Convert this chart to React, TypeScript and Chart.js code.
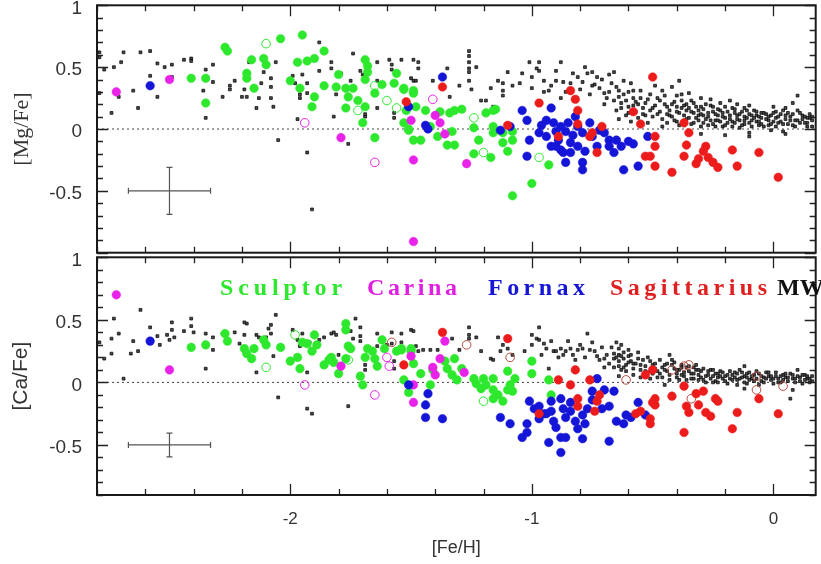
import React, { useEffect, useRef } from "react";
import { Chart, registerables } from "chart.js";
Chart.register(...registerables);

type P = [number, number];

// ---------- axes ----------
const X_MIN = -2.8;
const X_MAX = 0.175;
const xTickLabels = [-2, -1, 0];
const mgRange = [-1, 1];
const caRange = [-0.9, 1];
const yTickLabelsMg = [1, 0.5, 0, -0.5];
const yTickLabelsCa = [1, 0.5, 0, -0.5];

// ---------- legend ----------
const legendNames = ["Sculptor", "Carina", "Fornax", "Sagittarius", "MW"];
const legendColors = ["#2ee82e", "#e020e0", "#1515d5", "#e02020", "#111111"];

// ---------- typical error bars ----------
const errCenter: P = [-2.5, -0.5];
const errHalfFe = 0.17;
const errHalfMg = 0.19;
const errHalfCa = 0.095;

// ---------- [Mg/Fe] data ----------
const sculptorMg: P[] = [
  [-2.41, 0.41], [-2.35, 0.41], [-2.35, 0.21], [-2.27, 0.66], [-2.26, 0.63], [-2.18, 0.45], [-2.18, 0.41],
  [-2.15, 0.33], [-2.16, 0.56], [-2.11, 0.57], [-2.1, 0.52], [-2.04, 0.73], [-1.95, 0.76], [-1.97, 0.54],
  [-1.93, 0.55], [-1.9, 0.57], [-1.86, 0.63], [-2.0, 0.39], [-1.96, 0.33], [-1.9, 0.26], [-1.91, 0.18],
  [-1.86, 0.35], [-1.8, 0.44], [-1.81, 0.34], [-1.77, 0.33], [-1.76, 0.26], [-1.77, 0.17], [-1.74, 0.33],
  [-1.72, 0.23], [-1.7, 0.05], [-1.69, 0.18], [-1.69, 0.56], [-1.68, 0.51], [-1.68, 0.46], [-1.69, 0.4],
  [-1.65, 0.29], [-1.65, -0.07], [-1.62, 0.36], [-1.56, 0.45], [-1.57, 0.37], [-1.53, 0.32], [-1.53, 0.05],
  [-1.51, -0.01], [-1.49, -0.09], [-1.49, 0.29], [-1.53, 0.33], [-1.49, 0.31], [-1.48, 0.18], [-1.46, -0.09],
  [-1.51, 0.0], [-1.42, 0.02], [-1.39, -0.06], [-1.35, -0.13], [-1.32, -0.13], [-1.33, -0.02], [-1.34, 0.13],
  [-1.32, 0.15], [-1.29, 0.16], [-1.38, 0.14], [-1.24, 0.01], [-1.22, -0.09], [-1.24, -0.2], [-1.17, -0.23],
  [-1.19, 0.13], [-1.16, 0.15], [-1.15, 0.16], [-1.16, 0.02], [-1.16, -0.03], [-1.12, -0.03], [-1.12, -0.11],
  [-1.1, -0.18], [-1.08, -0.02], [-1.08, -0.09], [-1.08, -0.54], [-1.0, -0.44], [-0.93, -0.29], [-1.52, 0.15],
  [-1.44, 0.15],
];
const sculptorMgOpen: P[] = [
  [-2.1, 0.69], [-1.72, 0.15], [-1.65, 0.35], [-1.56, 0.17], [-1.6, 0.23], [-1.24, 0.09], [-1.2, -0.19], [-0.97, -0.23],
];
const carinaMg: P[] = [
  [-2.72, 0.3], [-2.5, 0.4], [-1.79, -0.07], [-1.49, -0.91], [-1.49, -0.25], [-1.5, 0.07], [-1.4, 0.11],
  [-1.38, 0.05], [-1.36, -0.04], [-1.27, -0.28],
];
const carinaMgOpen: P[] = [[-1.94, 0.05], [-1.65, -0.27], [-1.41, 0.24]];
const fornaxMg: P[] = [
  [-2.58, 0.35], [-1.51, 0.18], [-1.37, 0.42], [-1.44, 0.03], [-1.43, 0.0], [-1.13, -0.01], [-1.09, 0.02],
  [-1.04, 0.15], [-1.02, 0.07], [-1.01, -0.09], [-1.02, -0.22], [-0.92, 0.17], [-0.96, 0.03], [-0.97, -0.03],
  [-0.94, -0.06], [-0.92, -0.14], [-0.91, 0.05], [-0.88, 0.02], [-0.86, -0.02], [-0.89, -0.09], [-0.88, -0.17],
  [-0.87, -0.19], [-0.86, -0.27], [-0.84, -0.11], [-0.83, -0.05], [-0.81, 0.02], [-0.82, 0.1], [-0.81, -0.14],
  [-0.79, -0.27], [-0.79, -0.33], [-0.78, -0.18], [-0.76, 0.05], [-0.75, -0.06], [-0.73, -0.14], [-0.72, -0.01],
  [-0.7, -0.03], [-0.68, -0.09], [-0.66, -0.19], [-0.68, -0.14], [-0.65, -0.09], [-0.63, -0.14], [-0.6, -0.1],
  [-0.58, -0.12], [-0.62, -0.33], [-0.56, -0.3], [-0.52, -0.06], [-0.94, 0.07], [-0.9, -0.02], [-0.85, 0.05],
  [-0.79, -0.03], [-0.84, -0.19], [-0.9, -0.14],
];
const sagittariusMg: P[] = [
  [-1.52, 0.22], [-1.37, 0.34], [-1.1, 0.03], [-0.97, 0.21], [-0.89, -0.06], [-0.84, 0.31], [-0.82, 0.24],
  [-0.81, 0.15], [-0.81, 0.04], [-0.76, -0.06], [-0.75, -0.03], [-0.71, 0.02], [-0.73, -0.19], [-0.58, 0.14],
  [-0.55, 0.04], [-0.5, 0.42], [-0.53, -0.22], [-0.51, -0.22], [-0.49, -0.06], [-0.49, -0.14], [-0.49, -0.3],
  [-0.42, -0.35], [-0.37, 0.05], [-0.35, -0.03], [-0.36, -0.13], [-0.37, -0.22], [-0.32, -0.28], [-0.31, -0.24],
  [-0.29, -0.18], [-0.28, -0.14], [-0.27, -0.23], [-0.25, -0.27], [-0.23, -0.31], [-0.17, -0.17], [-0.15, -0.3],
  [-0.06, -0.19], [0.02, -0.39],
];
const mwMg: P[] = [
  [-2.79, 0.62], [-2.79, 0.58], [-2.77, 0.48], [-2.73, 0.5], [-2.74, 0.13], [-2.79, 0.29], [-2.71, 0.26],
  [-2.7, 0.54], [-2.69, 0.62], [-2.65, 0.31], [-2.63, 0.17], [-2.62, 0.62], [-2.58, 0.63], [-2.58, 0.43],
  [-2.55, 0.53], [-2.55, 0.26], [-2.52, 0.5], [-2.49, 0.52], [-2.49, 0.42], [-2.44, 0.56], [-2.41, 0.57],
  [-2.41, 0.55], [-2.35, 0.48], [-2.36, 0.31], [-2.35, 0.09], [-2.32, 0.52], [-2.32, 0.38], [-2.28, 0.26],
  [-2.25, 0.35], [-2.25, 0.32], [-2.23, 0.39], [-2.2, 0.26], [-2.18, 0.26], [-2.19, 0.32], [-2.17, 0.54],
  [-2.14, 0.17], [-2.13, 0.25], [-2.12, 0.37], [-2.11, 0.46], [-2.08, 0.41], [-2.08, 0.34], [-2.08, 0.25],
  [-2.07, 0.18], [-2.06, 0.54], [-2.05, -0.09], [-1.99, 0.43], [-1.98, 0.37], [-1.96, 0.28], [-1.96, 0.25],
  [-1.97, 0.08], [-1.95, 0.44], [-1.93, -0.19], [-1.93, 0.37], [-1.93, 0.29], [-1.91, -0.65], [-1.88, 0.7],
  [-1.88, 0.47], [-1.83, 0.54], [-1.83, 0.49], [-1.82, 0.1], [-1.81, 0.28], [-1.79, 0.45], [-1.76, -0.12],
  [-1.75, 0.39], [-1.74, 0.61], [-1.71, 0.47], [-1.7, 0.44], [-1.69, 0.1], [-1.69, 0.12], [-1.64, 0.54],
  [-1.64, 0.17], [-1.64, 0.39], [-1.59, 0.56], [-1.58, 0.52], [-1.57, 0.13], [-1.57, 0.09], [-1.58, 0.48],
  [-1.54, 0.56], [-1.5, 0.41], [-1.49, 0.56], [-1.47, 0.54], [-1.49, 0.39], [-1.48, 0.39], [-1.47, 0.49],
  [-1.41, 0.39], [-1.35, 0.49], [-1.34, 0.26], [-1.3, 0.35], [-1.26, 0.63], [-1.26, 0.59], [-1.26, 0.54],
  [-1.26, 0.49], [-1.26, 0.46], [-1.26, 0.39], [-1.23, 0.5], [-1.25, 0.32], [-1.21, 0.23], [-1.19, 0.23],
  [-1.17, 0.33], [-1.16, 0.18], [-1.14, 0.39], [-1.12, 0.37], [-1.12, 0.31], [-1.12, 0.27], [-1.1, 0.46],
  [-1.08, 0.35], [-1.05, 0.37], [-1.04, 0.45], [-1.01, 0.54], [-1.0, 0.33], [-0.97, 0.54], [-0.98, 0.49],
  [-0.97, 0.47], [-0.95, 0.39], [-0.93, 0.31], [-0.92, 0.35], [-0.9, 0.39], [-0.88, 0.54], [-0.88, 0.25],
  [-0.87, 0.38], [-0.84, 0.37], [-0.81, 0.42], [-0.79, 0.38], [-0.77, 0.45], [-0.75, 0.46], [-0.73, 0.42],
  [-0.75, 0.35], [-0.72, 0.33], [-0.7, 0.29], [-0.68, 0.3], [-0.66, 0.23], [-0.66, 0.46], [-0.65, 0.34],
  [-0.65, 0.15], [-0.64, 0.31], [-0.64, 0.26], [-0.63, 0.21], [-0.62, 0.39], [-0.61, 0.23], [-0.6, 0.13],
  [-0.59, 0.37], [-0.58, 0.31], [-0.57, 0.22], [-0.55, 0.25], [-0.53, 0.11], [-0.51, 0.15], [-0.49, 0.35],
  [-0.47, 0.23], [-0.46, 0.31], [-0.44, 0.18], [-0.43, 0.11], [-0.42, 0.34], [-0.4, 0.18], [-0.39, 0.39],
  [-0.38, 0.23], [-0.37, 0.11], [-0.36, 0.15], [-0.34, 0.23], [-0.33, 0.13], [-0.31, 0.07], [-0.3, 0.18],
  [-0.29, 0.11], [-0.27, 0.03], [-0.25, 0.14], [-0.24, 0.07], [-0.23, 0.11], [-0.21, 0.02], [-0.2, 0.09],
  [-0.18, 0.23], [-0.17, 0.06], [-0.16, 0.13], [-0.14, 0.01], [-0.12, 0.1], [-0.12, 0.17], [-0.1, -0.03],
  [-0.09, 0.07], [-0.07, 0.11], [-0.06, 0.03], [-0.05, 0.13], [-0.02, 0.07], [-0.01, -0.01], [0.01, 0.14],
  [0.02, 0.05], [0.04, -0.02], [0.06, 0.13], [0.08, 0.21], [0.09, 0.07], [0.1, 0.27], [0.12, 0.11],
  [0.14, 0.05], [0.15, 0.09], [0.16, 0.02],
  [-0.48, 0.12], [-0.46, 0.08], [-0.45, 0.2], [-0.44, 0.05], [-0.43, 0.15], [-0.42, 0.1], [-0.41, 0.22],
  [-0.4, 0.06], [-0.39, 0.13], [-0.38, 0.17], [-0.37, 0.03], [-0.36, 0.2], [-0.35, 0.09], [-0.34, 0.14],
  [-0.33, 0.05], [-0.32, 0.18], [-0.31, 0.11], [-0.3, 0.02], [-0.29, 0.16], [-0.28, 0.08], [-0.27, 0.13],
  [-0.26, 0.19], [-0.25, 0.04], [-0.24, 0.12], [-0.23, 0.07], [-0.22, 0.15], [-0.21, 0.1], [-0.2, 0.03],
  [-0.19, 0.14], [-0.18, 0.08], [-0.17, 0.17], [-0.16, 0.05], [-0.15, 0.11], [-0.14, 0.07], [-0.13, 0.14],
  [-0.12, 0.04], [-0.11, 0.09], [-0.1, 0.12], [-0.09, 0.02], [-0.08, 0.15], [-0.07, 0.06], [-0.06, 0.1],
  [-0.05, 0.04], [-0.04, 0.13], [-0.03, 0.08], [-0.02, 0.03], [-0.01, 0.11], [0.0, 0.06], [0.01, 0.09],
  [0.03, 0.12], [0.04, 0.04], [0.05, 0.08], [0.07, 0.1], [0.08, 0.03], [0.1, 0.07], [0.11, 0.13], [0.13, 0.05],
  [0.14, 0.09], [0.16, 0.07], [-0.62, 0.28], [-0.6, 0.18], [-0.58, 0.25], [-0.57, 0.14], [-0.56, 0.2],
  [-0.54, 0.17], [-0.52, 0.24], [-0.5, 0.1], [-0.49, 0.19], [-0.4, 0.27], [-0.35, 0.29], [-0.3, 0.25],
  [-0.26, 0.24], [-0.22, 0.21], [-0.15, 0.2], [-0.1, 0.19], [0.0, 0.18], [0.05, 0.17], [-0.2, -0.05],
  [-0.1, -0.06], [0.05, -0.04], [-0.3, -0.04],
  [-0.64, 0.08], [-0.63, 0.17], [-0.61, 0.11], [-0.6, 0.3], [-0.59, 0.06], [-0.58, 0.19], [-0.56, 0.09],
  [-0.55, 0.31], [-0.54, 0.12], [-0.53, 0.21], [-0.52, 0.05], [-0.51, 0.28], [-0.5, 0.17], [-0.48, 0.25],
  [-0.47, 0.14], [-0.46, 0.02], [-0.45, 0.27], [-0.44, 0.12], [-0.42, 0.2], [-0.41, 0.07], [-0.4, 0.14],
  [-0.39, 0.03], [-0.38, 0.28], [-0.37, 0.19], [-0.36, 0.08], [-0.35, 0.17], [-0.34, 0.04], [-0.33, 0.21],
  [-0.32, 0.09], [-0.31, 0.15], [-0.3, 0.12], [-0.29, 0.05], [-0.28, 0.2], [-0.27, 0.1], [-0.26, 0.07],
  [-0.25, 0.18], [-0.24, 0.02], [-0.23, 0.16], [-0.22, 0.06], [-0.21, 0.13], [-0.2, 0.18], [-0.19, 0.05],
  [-0.18, 0.11], [-0.17, 0.02], [-0.16, 0.16], [-0.15, 0.08], [-0.14, 0.12], [-0.13, 0.03], [-0.12, 0.07],
  [-0.11, 0.15], [-0.1, 0.05], [-0.09, 0.11], [-0.08, 0.09], [-0.07, 0.14], [-0.06, 0.06], [-0.05, 0.09],
  [-0.04, 0.02], [-0.03, 0.12], [-0.02, 0.1], [-0.01, 0.04], [0.0, 0.13], [0.01, 0.02], [0.02, 0.1],
  [0.03, 0.06], [0.04, 0.15], [0.05, 0.11], [0.06, 0.04], [0.07, 0.07], [0.08, 0.12], [0.09, 0.02],
  [0.1, 0.15], [0.11, 0.05], [0.12, 0.08], [0.13, 0.1], [0.14, 0.02], [0.15, 0.12], [0.16, 0.1],
  [-1.0, 0.42], [-0.95, 0.3], [-0.9, 0.47], [-0.86, 0.3], [-0.83, 0.45], [-0.8, 0.32], [-0.78, 0.5],
  [-0.76, 0.28], [-0.74, 0.36], [-0.71, 0.4], [-0.69, 0.25], [-0.67, 0.37], [-0.7, 0.2], [-0.68, 0.44],
];

// ---------- [Ca/Fe] data ----------
const sculptorCa: P[] = [
  [-2.41, 0.28], [-2.35, 0.3], [-2.27, 0.39], [-2.26, 0.33], [-2.19, 0.27], [-2.18, 0.23], [-2.16, 0.19],
  [-2.15, 0.27], [-2.11, 0.34], [-2.1, 0.3], [-2.04, 0.28], [-2.0, 0.17], [-1.97, 0.2], [-1.96, 0.11],
  [-1.95, 0.32], [-1.93, 0.31], [-1.91, 0.25], [-1.9, 0.38], [-1.89, 0.3], [-1.86, 0.14], [-1.84, 0.18],
  [-1.83, 0.2], [-1.82, 0.16], [-1.8, 0.07], [-1.77, 0.19], [-1.77, 0.47], [-1.77, 0.42], [-1.76, 0.29],
  [-1.75, 0.27], [-1.71, 0.05], [-1.7, -0.02], [-1.69, 0.2], [-1.68, 0.27], [-1.66, 0.25], [-1.65, 0.19],
  [-1.64, 0.13], [-1.62, 0.34], [-1.61, 0.27], [-1.56, 0.25], [-1.54, 0.27], [-1.53, 0.02], [-1.51, -0.08],
  [-1.5, 0.25], [-1.54, 0.26], [-1.5, 0.27], [-1.49, 0.15], [-1.46, 0.07], [-1.42, -0.02], [-1.41, 0.1],
  [-1.36, 0.17], [-1.35, 0.11], [-1.33, 0.06], [-1.31, 0.02], [-1.32, 0.19], [-1.29, 0.11], [-1.24, 0.03],
  [-1.23, -0.01], [-1.21, -0.05], [-1.2, 0.03], [-1.19, -0.02], [-1.16, -0.06], [-1.16, 0.03], [-1.14, -0.1],
  [-1.12, -0.15], [-1.1, -0.06], [-1.09, -0.02], [-1.07, 0.03], [-1.08, -0.07], [-1.1, 0.09], [-1.0, 0.17],
  [-1.0, 0.07], [-0.93, 0.02], [-0.92, -0.1], [-1.16, -0.13],
];
const sculptorCaOpen: P[] = [[-1.98, 0.38], [-2.1, 0.12], [-1.76, 0.18], [-1.2, -0.15]];
const carinaCa: P[] = [
  [-2.72, 0.7], [-2.5, 0.1], [-1.79, 0.13], [-1.5, 0.21], [-1.49, -0.16], [-1.36, 0.33], [-1.38, 0.19],
  [-1.4, 0.06], [-1.41, 0.12], [-1.49, -0.02], [-1.28, 0.08],
];
const carinaCaOpen: P[] = [[-1.94, -0.02], [-1.65, -0.1], [-1.6, 0.2], [-1.59, 0.13]];
const fornaxCa: P[] = [
  [-2.58, 0.33], [-1.51, -0.02], [-1.43, -0.09], [-1.44, -0.18], [-1.44, -0.28], [-1.37, -0.29], [-1.13, -0.28],
  [-1.09, -0.33], [-1.04, -0.44], [-1.02, -0.4], [-1.02, -0.33], [-1.01, -0.15], [-0.99, -0.21], [-0.97, -0.29],
  [-0.97, -0.19], [-0.95, -0.25], [-0.93, -0.48], [-0.92, -0.15], [-0.92, -0.23], [-0.91, -0.31], [-0.9, -0.36],
  [-0.88, -0.56], [-0.88, -0.44], [-0.88, -0.13], [-0.87, -0.21], [-0.86, -0.28], [-0.86, -0.44], [-0.84, -0.16],
  [-0.84, -0.23], [-0.82, -0.31], [-0.81, -0.37], [-0.79, -0.45], [-0.79, -0.26], [-0.78, -0.33], [-0.77, -0.21],
  [-0.75, -0.07], [-0.75, -0.14], [-0.73, 0.03], [-0.71, -0.21], [-0.7, -0.06], [-0.68, -0.47], [-0.68, -0.19],
  [-0.66, -0.07], [-0.65, -0.31], [-0.62, -0.33], [-0.61, -0.26], [-0.59, -0.28], [-0.56, -0.16], [-0.53, -0.26],
  [-0.94, -0.25],
];
const sagittariusCa: P[] = [
  [-1.53, 0.14], [-1.37, 0.4], [-1.1, 0.35], [-0.89, 0.02], [-0.84, -0.02], [-0.82, 0.1], [-0.81, -0.13],
  [-0.81, -0.19], [-0.76, 0.02], [-0.73, -0.15], [-0.72, -0.1], [-0.74, -0.23], [-0.97, -0.25], [-0.57, -0.25],
  [-0.55, -0.23], [-0.53, 0.06], [-0.5, 0.1], [-0.5, -0.16], [-0.49, -0.13], [-0.51, -0.29], [-0.51, -0.33],
  [-0.49, -0.18], [-0.42, -0.11], [-0.37, -0.4], [-0.37, -0.03], [-0.36, -0.19], [-0.35, -0.24], [-0.32, -0.09],
  [-0.29, -0.07], [-0.31, -0.18], [-0.28, -0.24], [-0.26, -0.27], [-0.24, -0.13], [-0.23, -0.15], [-0.17, -0.37],
  [-0.15, -0.24], [-0.06, -0.13], [0.02, -0.25],
];
const sagittariusCaOpen: P[] = [
  [-1.58, 0.32], [-1.27, 0.3], [-1.09, 0.2], [-0.61, 0.02], [-0.42, 0.1], [-0.37, 0.13], [-0.35, 0.14],
  [-0.34, -0.13], [-0.07, 0.05], [-0.07, -0.06], [0.04, -0.03],
];
const mwCa: P[] = [
  [-2.79, 0.32], [-2.77, 0.19], [-2.74, 0.23], [-2.73, 0.51], [-2.74, 0.35], [-2.71, 0.39], [-2.69, 0.03],
  [-2.66, 0.23], [-2.65, 0.33], [-2.63, 0.25], [-2.62, 0.58], [-2.58, 0.44], [-2.55, 0.37], [-2.54, 0.3],
  [-2.51, 0.38], [-2.49, 0.48], [-2.49, 0.42], [-2.5, 0.34], [-2.48, 0.36], [-2.44, 0.41], [-2.41, 0.51],
  [-2.41, 0.45], [-2.4, 0.4], [-2.35, 0.39], [-2.35, 0.11], [-2.32, 0.26], [-2.32, 0.36], [-2.28, 0.39],
  [-2.23, 0.4], [-2.21, 0.31], [-2.19, 0.38], [-2.18, 0.47], [-2.19, 0.48], [-2.14, 0.38], [-2.14, 0.08],
  [-2.13, 0.36], [-2.1, 0.36], [-2.09, 0.43], [-2.08, 0.39], [-2.08, 0.46], [-2.07, 0.21], [-2.06, 0.54],
  [-2.05, -0.12], [-1.99, 0.42], [-1.97, 0.34], [-1.96, 0.29], [-1.95, 0.39], [-1.93, 0.08], [-1.93, -0.21],
  [-1.91, -0.25], [-1.92, 0.32], [-1.88, 0.34], [-1.86, 0.36], [-1.83, 0.39], [-1.82, 0.4], [-1.81, 0.38],
  [-1.8, 0.22], [-1.76, -0.19], [-1.75, 0.41], [-1.74, 0.35], [-1.73, 0.51], [-1.71, 0.44], [-1.71, 0.37],
  [-1.71, 0.33], [-1.69, 0.14], [-1.69, 0.1], [-1.64, 0.39], [-1.64, 0.29], [-1.6, 0.3], [-1.58, 0.31],
  [-1.58, 0.4], [-1.57, 0.11], [-1.57, 0.17], [-1.54, 0.39], [-1.5, 0.42], [-1.54, 0.32], [-1.49, 0.41],
  [-1.48, 0.29], [-1.47, 0.25], [-1.45, 0.26], [-1.42, 0.26], [-1.39, 0.26], [-1.33, 0.35], [-1.3, 0.26],
  [-1.26, 0.44], [-1.26, 0.38], [-1.26, 0.35], [-1.23, 0.36], [-1.21, 0.25], [-1.17, 0.19], [-1.16, 0.18],
  [-1.14, 0.36], [-1.13, 0.25], [-1.12, 0.3], [-1.1, 0.27], [-1.08, 0.22], [-1.03, 0.25], [-1.0, 0.38],
  [-0.98, 0.35], [-0.97, 0.44], [-0.97, 0.34], [-0.95, 0.31], [-0.94, 0.27], [-0.93, 0.11], [-0.91, 0.25],
  [-0.9, 0.25], [-0.88, 0.27], [-0.87, 0.22], [-0.86, 0.25], [-0.84, 0.27], [-0.83, 0.22], [-0.81, 0.26],
  [-0.79, 0.27], [-0.77, 0.39], [-0.76, 0.26], [-0.74, 0.25], [-0.72, 0.18], [-0.7, 0.19], [-0.68, 0.15],
  [-0.66, 0.19], [-0.65, 0.32], [-0.64, 0.27], [-0.64, 0.22], [-0.64, 0.13], [-0.64, 0.17], [-0.63, 0.1],
  [-0.62, 0.19], [-0.61, 0.14], [-0.6, 0.26], [-0.59, 0.17], [-0.58, 0.11], [-0.56, 0.19], [-0.55, 0.14],
  [-0.53, 0.13], [-0.51, 0.17], [-0.49, 0.11], [-0.47, 0.07], [-0.45, 0.14], [-0.43, 0.22], [-0.42, 0.18],
  [-0.41, 0.11], [-0.4, 0.07], [-0.38, 0.14], [-0.37, 0.05], [-0.35, 0.09], [-0.33, 0.03], [-0.32, 0.1],
  [-0.31, 0.06], [-0.29, 0.02], [-0.27, 0.09], [-0.25, 0.05], [-0.24, 0.01], [-0.23, 0.07], [-0.21, 0.03],
  [-0.19, -0.01], [-0.17, 0.06], [-0.15, 0.02], [-0.14, 0.1], [-0.12, 0.05], [-0.11, -0.01], [-0.09, 0.03],
  [-0.07, 0.09], [-0.05, 0.01], [-0.02, 0.05], [0.0, -0.01], [0.02, 0.03], [0.04, 0.06], [0.06, 0.01],
  [0.07, -0.13], [0.08, 0.03], [0.1, 0.1], [0.12, -0.01], [0.14, 0.03], [0.16, 0.01], [-0.12, 0.13],
  [-0.48, 0.04], [-0.46, 0.12], [-0.44, 0.09], [-0.43, 0.02], [-0.42, 0.14], [-0.4, 0.04], [-0.39, 0.1],
  [-0.38, 0.06], [-0.36, 0.12], [-0.34, 0.07], [-0.33, 0.12], [-0.31, 0.02], [-0.3, 0.09], [-0.28, 0.05],
  [-0.26, 0.1], [-0.25, 0.0], [-0.23, 0.04], [-0.22, 0.09], [-0.2, 0.05], [-0.18, 0.03], [-0.16, 0.08],
  [-0.15, -0.02], [-0.13, 0.04], [-0.11, 0.07], [-0.1, 0.02], [-0.08, 0.06], [-0.06, -0.02], [-0.04, 0.04],
  [-0.03, 0.08], [-0.01, 0.02], [0.01, 0.05], [0.03, 0.0], [0.05, 0.04], [0.07, 0.07], [0.09, 0.0],
  [0.11, 0.04], [0.13, 0.06], [0.15, 0.0], [-0.6, 0.21], [-0.58, 0.15], [-0.55, 0.1], [-0.52, 0.08],
  [-0.5, 0.14], [-0.62, 0.24], [-0.66, 0.23], [-0.65, 0.2], [-0.63, 0.3], [-0.61, 0.09], [-0.7, 0.12],
  [-0.45, -0.02], [-0.12, -0.05], [0.08, -0.06],
  [-0.64, 0.05], [-0.63, 0.21], [-0.62, 0.12], [-0.6, 0.16], [-0.59, 0.22], [-0.58, 0.06], [-0.57, 0.15],
  [-0.56, 0.24], [-0.55, 0.04], [-0.54, 0.18], [-0.53, 0.09], [-0.52, 0.2], [-0.51, 0.03], [-0.5, 0.07],
  [-0.49, 0.15], [-0.48, 0.09], [-0.47, 0.18], [-0.46, 0.04], [-0.45, 0.1], [-0.44, 0.15], [-0.43, 0.06],
  [-0.41, 0.16], [-0.4, 0.1], [-0.39, 0.02], [-0.38, 0.12], [-0.37, 0.08], [-0.36, 0.02], [-0.35, 0.13],
  [-0.34, 0.03], [-0.33, 0.07], [-0.32, 0.14], [-0.31, 0.1], [-0.3, 0.04], [-0.29, 0.11], [-0.28, 0.0],
  [-0.27, 0.06], [-0.26, 0.03], [-0.25, 0.1], [-0.24, 0.07], [-0.23, 0.0], [-0.22, 0.05], [-0.21, 0.08],
  [-0.2, 0.01], [-0.19, 0.06], [-0.18, 0.09], [-0.17, 0.02], [-0.16, 0.04], [-0.15, 0.07], [-0.14, 0.03],
  [-0.13, 0.08], [-0.12, 0.0], [-0.11, 0.04], [-0.1, 0.08], [-0.09, 0.05], [-0.08, 0.01], [-0.07, 0.03],
  [-0.06, 0.07], [-0.05, 0.05], [-0.04, 0.0], [-0.03, 0.03], [-0.02, 0.08], [-0.01, 0.05], [0.0, 0.03],
  [0.01, 0.08], [0.02, 0.0], [0.03, 0.05], [0.04, 0.02], [0.05, 0.07], [0.06, 0.04], [0.08, 0.06],
  [0.09, 0.03], [0.1, 0.05], [0.11, 0.01], [0.12, 0.06], [0.13, 0.02], [0.14, 0.05], [0.15, 0.03],
  [0.16, 0.05], [-1.0, 0.3], [-0.96, 0.22], [-0.92, 0.33], [-0.89, 0.2], [-0.85, 0.33], [-0.82, 0.18],
  [-0.8, 0.3], [-0.78, 0.2], [-0.75, 0.32], [-0.73, 0.21], [-0.71, 0.28], [-0.69, 0.22], [-0.67, 0.28],
  [-0.66, 0.12],
];

// ---------- styles ----------
const GREEN = "#2ee82e";
const MAGENTA = "#e822e8";
const BLUE = "#1515d8";
const RED = "#ec1c1c";
const RED_OPEN = "#b84a40";
const SANS = "'Liberation Sans', Arial, sans-serif";
const legendStarts = [220, 367, 488, 610, 777];
const legendWidths = [122, 90, 97, 157, 43];

function pts(a: P[]) {
  return a.map(([x, y]) => ({ x, y }));
}

function filled(label: string, data: P[], color: string, order: number) {
  return {
    label, data: pts(data), pointStyle: "circle", pointRadius: 4.3,
    backgroundColor: color, borderColor: color, borderWidth: 0.5, order,
  };
}
function open(label: string, data: P[], color: string, order: number) {
  return {
    label, data: pts(data), pointStyle: "circle", pointRadius: 4.3,
    backgroundColor: "rgba(255,255,255,0)", borderColor: color, borderWidth: 1, order,
  };
}
function mw(data: P[]) {
  return {
    label: "MW", data: pts(data), pointStyle: "rect", pointRadius: 2,
    backgroundColor: "#4a4a4a", borderColor: "#000", borderWidth: 0.7, order: 10,
  };
}

const framePlugin = {
  id: "frame",
  beforeDatasetsDraw(chart: any, _a: any, opts: any) {
    const { ctx, chartArea: a, scales } = chart;
    const xs = scales.x, ys = scales.y;
    ctx.save();
    const y0 = ys.getPixelForValue(0);
    ctx.strokeStyle = "#444";
    ctx.lineWidth = 1;
    ctx.setLineDash([2, 3]);
    ctx.beginPath();
    ctx.moveTo(a.left, y0);
    ctx.lineTo(a.right, y0);
    ctx.stroke();
    ctx.setLineDash([]);
    const cx = xs.getPixelForValue(errCenter[0]);
    const cy = ys.getPixelForValue(errCenter[1]);
    const x1 = xs.getPixelForValue(errCenter[0] - errHalfFe);
    const x2 = xs.getPixelForValue(errCenter[0] + errHalfFe);
    const y1 = ys.getPixelForValue(errCenter[1] + opts.errY);
    const y2 = ys.getPixelForValue(errCenter[1] - opts.errY);
    ctx.strokeStyle = "#555";
    ctx.lineWidth = 1.2;
    ctx.beginPath();
    ctx.moveTo(x1, cy); ctx.lineTo(x2, cy);
    ctx.moveTo(cx, y1); ctx.lineTo(cx, y2);
    ctx.moveTo(x1, cy - 3); ctx.lineTo(x1, cy + 3);
    ctx.moveTo(x2, cy - 3); ctx.lineTo(x2, cy + 3);
    ctx.moveTo(cx - 3, y1); ctx.lineTo(cx + 3, y1);
    ctx.moveTo(cx - 3, y2); ctx.lineTo(cx + 3, y2);
    ctx.stroke();
    ctx.restore();
  },
  afterDraw(chart: any, _a: any, opts: any) {
    const { ctx, chartArea: a, scales } = chart;
    const xs = scales.x, ys = scales.y;
    ctx.save();
    ctx.strokeStyle = "#222";
    ctx.lineWidth = 1.3;
    ctx.beginPath();
    for (let i = Math.ceil(xs.min / 0.2 - 1e-6); i * 0.2 <= xs.max + 1e-6; i++) {
      const v = i * 0.2;
      const major = Math.abs(v - Math.round(v)) < 1e-6;
      const len = major ? 11 : 6;
      const px = Math.round(xs.getPixelForValue(v)) + 0.5;
      ctx.moveTo(px, a.top); ctx.lineTo(px, a.top + len);
      ctx.moveTo(px, a.bottom); ctx.lineTo(px, a.bottom - len);
    }
    for (let i = Math.ceil(ys.min / 0.1 - 1e-6); i * 0.1 <= ys.max + 1e-6; i++) {
      const v = i * 0.1;
      const major = Math.abs(v * 2 - Math.round(v * 2)) < 1e-6;
      const len = major ? 11 : 6;
      const py = Math.round(ys.getPixelForValue(v)) + 0.5;
      ctx.moveTo(a.left, py); ctx.lineTo(a.left + len, py);
      ctx.moveTo(a.right, py); ctx.lineTo(a.right - len, py);
    }
    ctx.stroke();
    ctx.lineWidth = 2;
    ctx.strokeStyle = "#1a1a1a";
    ctx.strokeRect(a.left, a.top, a.right - a.left, a.bottom - a.top);
    if (opts.legend) {
      ctx.textBaseline = "alphabetic";
      ctx.textAlign = "left";
      ctx.font = "bold 24px 'Liberation Serif', 'DejaVu Serif', serif";
      legendNames.forEach((name, i) => {
        (ctx as any).letterSpacing = "0px";
        const w = ctx.measureText(name).width;
        const ls = Math.max(0, (legendWidths[i] - w) / Math.max(1, name.length - 1));
        (ctx as any).letterSpacing = ls.toFixed(2) + "px";
        ctx.fillStyle = legendColors[i];
        ctx.fillText(name, legendStarts[i], a.top + 38);
      });
      (ctx as any).letterSpacing = "0px";
    }
    ctx.restore();
  },
};

function makeConfig(
  datasets: any[], range: number[], yTicks: number[], yTitle: string, yTitleFont: any,
  showX: boolean, padding: any, xHeight: number, pluginOpts: any
) {
  return {
    type: "scatter",
    data: { datasets },
    plugins: [framePlugin],
    options: {
      animation: false,
      responsive: false,
      maintainAspectRatio: false,
      events: [],
      layout: { padding },
      plugins: {
        legend: { display: false },
        tooltip: { enabled: false },
        frame: pluginOpts,
      },
      scales: {
        x: {
          type: "linear",
          min: X_MIN,
          max: X_MAX,
          display: showX,
          grid: { display: false, drawTicks: false },
          border: { display: false },
          afterBuildTicks: (s: any) => { s.ticks = xTickLabels.map((v) => ({ value: v })); },
          afterFit: (s: any) => {
            s.height = xHeight;
            s.paddingLeft = 0; s.paddingRight = 0; s.paddingTop = 0; s.paddingBottom = 0;
          },
          ticks: {
            color: "#333",
            font: { family: SANS, size: 17 },
            padding: 14,
            maxRotation: 0,
            autoSkip: false,
            callback: (v: any) => String(v),
          },
          title: {
            display: showX,
            text: "[Fe/H]",
            color: "#333",
            font: { family: SANS, size: 18 },
            padding: { top: 0, bottom: 5 },
          },
        },
        y: {
          type: "linear",
          min: range[0],
          max: range[1],
          grid: { display: false, drawTicks: false },
          border: { display: false },
          afterBuildTicks: (s: any) => { s.ticks = yTicks.map((v) => ({ value: v })); },
          afterFit: (s: any) => {
            s.width = 97;
            s.paddingLeft = 0; s.paddingRight = 0; s.paddingTop = 0; s.paddingBottom = 0;
          },
          ticks: {
            color: "#333",
            font: { family: SANS, size: 19 },
            padding: 15,
            labelOffset: 3,
            autoSkip: false,
            callback: (v: any) => String(v),
          },
          title: {
            display: true,
            text: yTitle,
            color: "#333",
            font: yTitleFont,
            padding: { top: 9, bottom: 0 },
          },
        },
      },
    },
  };
}

export default function App() {
  const topRef = useRef<HTMLCanvasElement>(null);
  const botRef = useRef<HTMLCanvasElement>(null);

  useEffect(() => {
    const top = new Chart(topRef.current as HTMLCanvasElement, makeConfig(
      [
        filled("Sagittarius", sagittariusMg, RED, 1),
        filled("Fornax", fornaxMg, BLUE, 2),
        filled("Carina", carinaMg, MAGENTA, 3),
        open("Carina open", carinaMgOpen, MAGENTA, 3),
        filled("Sculptor", sculptorMg, GREEN, 4),
        open("Sculptor open", sculptorMgOpen, GREEN, 4),
        mw(mwMg),
      ],
      mgRange, yTickLabelsMg, "[Mg/Fe]",
      { family: "'Liberation Serif', 'Times New Roman', serif", size: 22 },
      false, { top: 4, bottom: 4, left: 0, right: 1 }, 0,
      { errY: errHalfMg, legend: false }
    ) as any);
    const bot = new Chart(botRef.current as HTMLCanvasElement, makeConfig(
      [
        filled("Sagittarius", sagittariusCa, RED, 1),
        open("Sagittarius open", sagittariusCaOpen, RED_OPEN, 1),
        filled("Fornax", fornaxCa, BLUE, 2),
        filled("Carina", carinaCa, MAGENTA, 3),
        open("Carina open", carinaCaOpen, MAGENTA, 3),
        filled("Sculptor", sculptorCa, GREEN, 4),
        open("Sculptor open", sculptorCaOpen, GREEN, 4),
        mw(mwCa),
      ],
      caRange, yTickLabelsCa, "[Ca/Fe]",
      { family: SANS, size: 21 },
      true, { top: 3, bottom: 0, left: 0, right: 1 }, 69,
      { errY: errHalfCa, legend: true }
    ) as any);
    return () => { top.destroy(); bot.destroy(); };
  }, []);

  return (
    <div style={{ position: "absolute", left: 0, top: 0, width: 821, height: 564, overflow: "hidden", background: "#fff" }}>
      <canvas ref={botRef} width={821} height={312} style={{ position: "absolute", left: 0, top: 252, width: 821, height: 312 }} />
      <canvas ref={topRef} width={821} height={258} style={{ position: "absolute", left: 0, top: 0, width: 821, height: 258 }} />
    </div>
  );
}
